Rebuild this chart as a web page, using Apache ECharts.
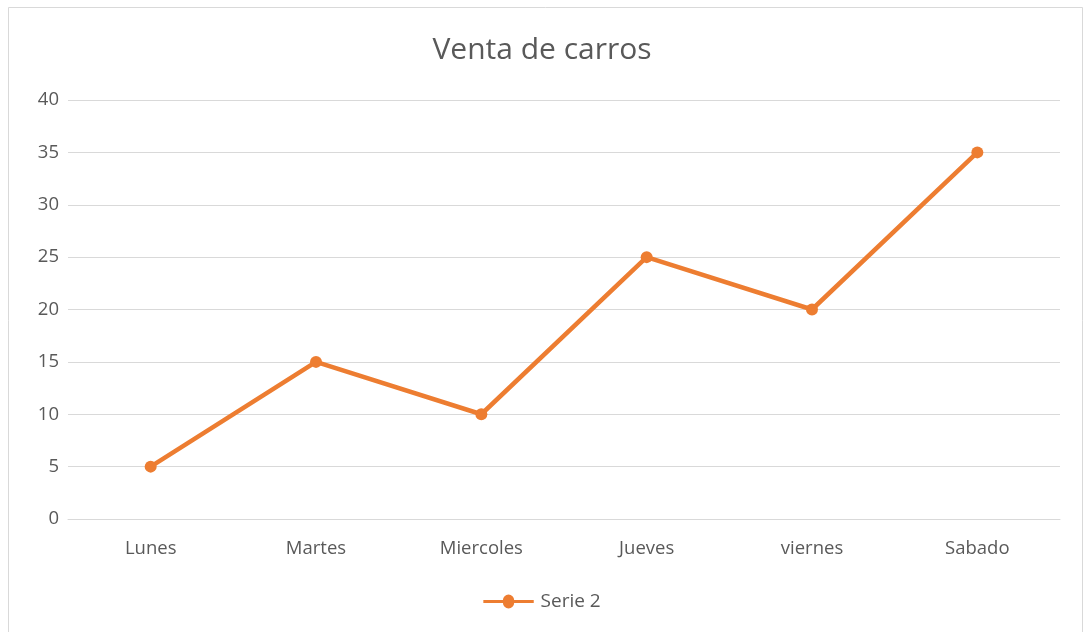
<!DOCTYPE html>
<html><head><meta charset="utf-8">
<script src="https://cdn.jsdelivr.net/npm/echarts@6/dist/echarts.min.js"></script>
<style>html,body{margin:0;padding:0;background:#fff}#c{width:1084px;height:632px}</style>
</head><body><div id="c"></div>
<script>
const categories = ['Lunes','Martes','Miercoles','Jueves','viernes','Sabado'];
const serie2 = [5,15,10,25,20,35];
const seriesName = 'Serie 2';
const chart = echarts.init(document.getElementById('c'));
chart.setOption({
  animation:false,
  backgroundColor:'#fff',
  graphic:[{type:'rect',shape:{x:8.5,y:7.5,width:1074,height:630},style:{fill:'none',stroke:'#d9d9d9',lineWidth:1}}],
  title:{text:'Venta de carros',left:'center',top:30,textStyle:{fontFamily:'Open Sans',fontWeight:'normal',fontSize:30,color:'#595959'}},
  legend:{top:587,left:'center',itemWidth:54,itemHeight:14,
    icon:'path://M0,5.5 L21,5.5 A6,6 0 0 1 33,5.5 L54,5.5 L54,8.5 L33,8.5 A6,6 0 0 1 21,8.5 L0,8.5 Z',
    data:[{name:seriesName}],textStyle:{fontFamily:'Open Sans',fontSize:19,color:'#595959'},itemGap:4},
  grid:{left:68,right:24,top:100,bottom:113},
  xAxis:{type:'category',data:categories,boundaryGap:true,
    axisLine:{lineStyle:{color:'#d9d9d9'}},axisTick:{show:false},
    axisLabel:{fontFamily:'Open Sans',fontSize:18.5,color:'#595959',margin:20}},
  yAxis:{type:'value',min:0,max:40,interval:5,
    axisLine:{show:false},axisTick:{show:false},
    splitLine:{lineStyle:{color:'#d9d9d9'}},
    axisLabel:{fontFamily:'Open Sans',fontSize:18.5,color:'#595959',margin:9}},
  series:[{name:seriesName,type:'line',data:serie2,symbol:'circle',symbolSize:12,
    lineStyle:{color:'#ED7D31',width:4.5},itemStyle:{color:'#ED7D31'}}]
});
</script></body></html>
